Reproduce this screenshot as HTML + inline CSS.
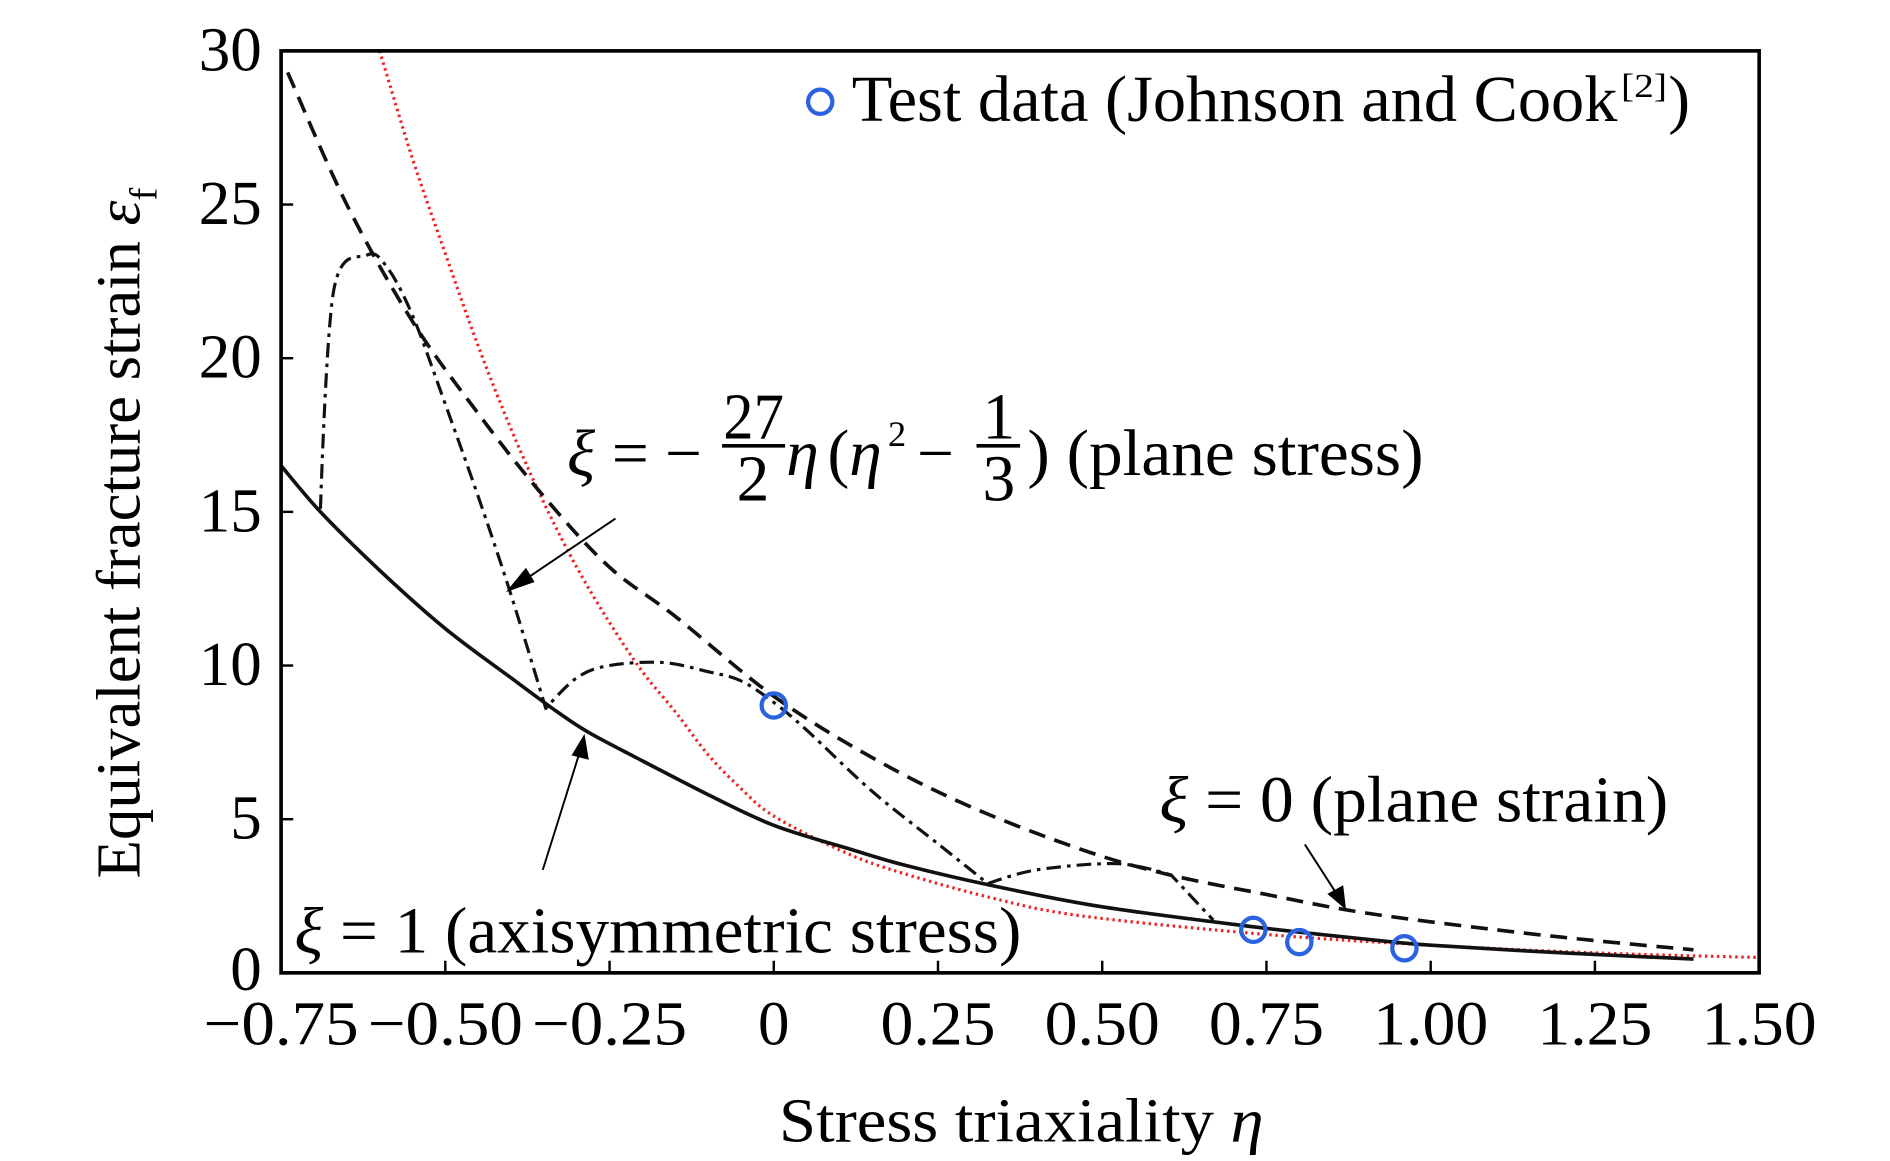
<!DOCTYPE html>
<html><head><meta charset="utf-8"><style>
html,body{margin:0;padding:0;background:#fff;}
svg{display:block;font-family:"Liberation Serif",serif;}
</style></head><body>
<svg id="chart" xmlns="http://www.w3.org/2000/svg" width="1890" height="1161" viewBox="0 0 1560 958.3">
<g id="marks"></g>
<rect x="232" y="42" width="1220" height="761" fill="none" stroke="#000" stroke-width="3"/>
<g id="ticks"></g>
<text x="643" y="942" font-size="52" textLength="400" lengthAdjust="spacingAndGlyphs">Stress triaxiality <tspan font-style="italic">η</tspan></text>
<text transform="translate(115,725) rotate(-90)" font-size="52" textLength="570" lengthAdjust="spacingAndGlyphs">Equivalent fracture strain <tspan font-style="italic">ε</tspan><tspan font-size="32" dy="14">f</tspan></text>
<g>
<circle cx="677" cy="84" r="10" fill="none" stroke="#2a62e0" stroke-width="3.5"/>
<text x="703" y="100" font-size="54" textLength="632" lengthAdjust="spacingAndGlyphs">Test data (Johnson and Cook</text>
<text x="1338" y="80" font-size="28" textLength="38" lengthAdjust="spacingAndGlyphs">[2]</text>
<text x="1377" y="100" font-size="54">)</text>
</g>
<g font-size="54">
<text x="468" y="392" font-style="italic">ξ</text>
<text x="505" y="392">= −</text>
<text x="597" y="362" textLength="50" lengthAdjust="spacingAndGlyphs">27</text>
<line x1="596" y1="368" x2="648" y2="368" stroke="#000" stroke-width="3"/>
<text x="608" y="413">2</text>
<text x="649" y="392" font-style="italic">η</text>
<text x="683" y="392">(<tspan font-style="italic">η</tspan></text>
<text x="733" y="368" font-size="30">2</text>
<text x="757" y="392">−</text>
<text x="811" y="362">1</text>
<line x1="806" y1="368" x2="842" y2="368" stroke="#000" stroke-width="3"/>
<text x="811" y="413">3</text>
<text x="848" y="392" textLength="327" lengthAdjust="spacingAndGlyphs">) (plane stress)</text>
</g>
<text x="957" y="678" font-size="54" textLength="420" lengthAdjust="spacingAndGlyphs"><tspan font-style="italic">ξ</tspan> = 0 (plane strain)</text>
<text x="243" y="786" font-size="54" textLength="600" lengthAdjust="spacingAndGlyphs"><tspan font-style="italic">ξ</tspan> = 1 (axisymmetric stress)</text>
<g stroke="#000" stroke-width="1.6" fill="#000">
<line x1="508" y1="428" x2="428" y2="482"/><polygon points="420,487 434,470 440,480"/>
<line x1="1077" y1="697" x2="1106" y2="742"/><polygon points="1110,749 1097,738 1108,732"/>
<line x1="448" y1="718" x2="480" y2="616"/><polygon points="482,608 485,626 473,623"/>
</g>
</svg>
<script>
// Data (η, εf)
const xTicks = [-0.75,-0.5,-0.25,0,0.25,0.5,0.75,1.0,1.25,1.5];
const xTickLabels = ["−0.75","−0.50","−0.25","0","0.25","0.50","0.75","1.00","1.25","1.50"];
const yTicks = [0,5,10,15,20,25,30];
const yTickLabels = ["0","5","10","15","20","25","30"];
const axisymEta = [-0.75,-0.69,-0.6,-0.5,-0.4,-0.33,-0.28,-0.2,-0.1,0,0.12,0.2,0.33,0.5,0.73,0.9,1.0,1.2,1.4];
const axisymVal = [16.5,15.0,13.1,11.2,9.6,8.5,7.8,6.9,5.8,4.8,4.0,3.5,2.85,2.15,1.5,1.1,0.9,0.65,0.45];
const planeStrainEta = [-0.74,-0.65,-0.55,-0.45,-0.35,-0.25,-0.15,0,0.15,0.3,0.47,0.6,0.75,0.9,1.1,1.25,1.4];
const planeStrainVal = [29.3,25.0,21.2,18.2,15.5,13.2,11.6,9.0,7.0,5.4,4.0,3.2,2.55,1.95,1.4,1.05,0.75];
const redEta = [-0.6,-0.55,-0.5,-0.45,-0.4,-0.35,-0.3,-0.25,-0.2,-0.15,-0.1,-0.05,0,0.1,0.18,0.33,0.47,0.75,1.0,1.25,1.5];
const redVal = [30,26.5,23.4,20.4,17.7,15.3,13.2,11.4,9.8,8.5,7.1,6.0,5.1,4.0,3.35,2.45,1.85,1.25,0.9,0.65,0.5];
const dashDotEta = [-0.69,-0.67,-0.62,-0.59,-0.55,-0.5,-0.45,-0.4,-0.347,-0.3,-0.25,-0.17,-0.1,-0.05,0,0.05,0.15,0.25,0.326,0.4,0.524,0.605,0.669];
const dashDotVal = [15.1,22.2,23.35,23.0,21.4,18.5,15.5,12.3,8.6,9.6,10.0,10.1,9.8,9.5,8.8,7.9,5.9,4.2,2.9,3.35,3.55,3.18,1.72];
const testEta = [0,0.73,0.8,0.96];
const testVal = [8.7,1.4,1.0,0.8];

const NS="http://www.w3.org/2000/svg";
const X0=232,X1=1452,Y0=803,Y1=42;
const xs = v => X0 + (v+0.75)/2.25*(X1-X0);
const ys = v => Y0 - v/30*(Y0-Y1);
const marks=document.getElementById('marks');
const ticks=document.getElementById('ticks');
const clip=document.createElementNS(NS,'clipPath');clip.id='pc';
const cr=document.createElementNS(NS,'rect');
cr.setAttribute('x',X0);cr.setAttribute('y',Y1);cr.setAttribute('width',X1-X0);cr.setAttribute('height',Y0-Y1);
clip.appendChild(cr);marks.appendChild(clip);

function smoothPath(pts, sharp){
  let d='M'+pts[0][0].toFixed(1)+','+pts[0][1].toFixed(1);
  for(let i=0;i<pts.length-1;i++){
    const p0=pts[i-1]||pts[i],p1=pts[i],p2=pts[i+1],p3=pts[i+2]||p2;
    const t=(sharp&&sharp.has(i))?0:1/6, t2=(sharp&&sharp.has(i+1))?0:1/6;
    const c1=[p1[0]+(p2[0]-p0[0])*t,p1[1]+(p2[1]-p0[1])*t];
    const c2=[p2[0]-(p3[0]-p1[0])*t2,p2[1]-(p3[1]-p1[1])*t2];
    d+='C'+c1[0].toFixed(1)+','+c1[1].toFixed(1)+' '+c2[0].toFixed(1)+','+c2[1].toFixed(1)+' '+p2[0].toFixed(1)+','+p2[1].toFixed(1);
  }
  return d;
}
function line(ex,vals,name,stroke,w,dash,sharp){
  const p=document.createElementNS(NS,'path');
  
  
  p.setAttribute('d',smoothPath(ex.map((e,i)=>[xs(e),ys(vals[i])]),sharp));
  p.setAttribute('fill','none');p.setAttribute('stroke',stroke);p.setAttribute('stroke-width',w);
  p.setAttribute('stroke-linejoin','round');
  if(dash)p.setAttribute('stroke-dasharray',dash);
  p.setAttribute('clip-path','url(#pc)');
  marks.appendChild(p);
}
line(redEta,redVal,'red-dotted-curve','#ee2222',2.6,'2 3');
line(axisymEta,axisymVal,'axisymmetric-curve','#111',3,null);
line(planeStrainEta,planeStrainVal,'plane-strain-curve','#111',3,'14 8');
line(dashDotEta,dashDotVal,'plane-stress-curve','#111',2.6,'12 5 3 5',new Set([0,8,18,21,22]));
testEta.forEach((e,i)=>{
  const c=document.createElementNS(NS,'circle');
  
  
  c.setAttribute('cx',xs(e));c.setAttribute('cy',ys(testVal[i]));c.setAttribute('r',10);
  c.setAttribute('fill','none');c.setAttribute('stroke','#2a62e0');c.setAttribute('stroke-width',3.5);
  marks.appendChild(c);
});
xTicks.forEach((t,i)=>{
  const l=document.createElementNS(NS,'line');
  
  
  l.setAttribute('x1',xs(t));l.setAttribute('x2',xs(t));l.setAttribute('y1',Y0);l.setAttribute('y2',Y0-10);
  l.setAttribute('stroke','#000');l.setAttribute('stroke-width',2);
  ticks.appendChild(l);
  const tx=document.createElementNS(NS,'text');
  
  
  tx.setAttribute('x',xs(t));tx.setAttribute('y',862);tx.setAttribute('font-size',52);
  tx.setAttribute('text-anchor','middle');
  if(xTickLabels[i].length>1){tx.setAttribute('textLength',xTickLabels[i].length>4?128:95);tx.setAttribute('lengthAdjust','spacingAndGlyphs');}
  tx.textContent=xTickLabels[i];
  ticks.appendChild(tx);
});
yTicks.forEach((t,i)=>{
  const l=document.createElementNS(NS,'line');
  
  
  l.setAttribute('x1',X0);l.setAttribute('x2',X0+10);l.setAttribute('y1',ys(t));l.setAttribute('y2',ys(t));
  l.setAttribute('stroke','#000');l.setAttribute('stroke-width',2);
  ticks.appendChild(l);
  const tx=document.createElementNS(NS,'text');
  
  
  tx.setAttribute('x',216);tx.setAttribute('y',ys(t)+(t===0?14:16));tx.setAttribute('font-size',52);
  tx.setAttribute('text-anchor','end');
  tx.textContent=yTickLabels[i];
  ticks.appendChild(tx);
});
</script>
</body></html>
